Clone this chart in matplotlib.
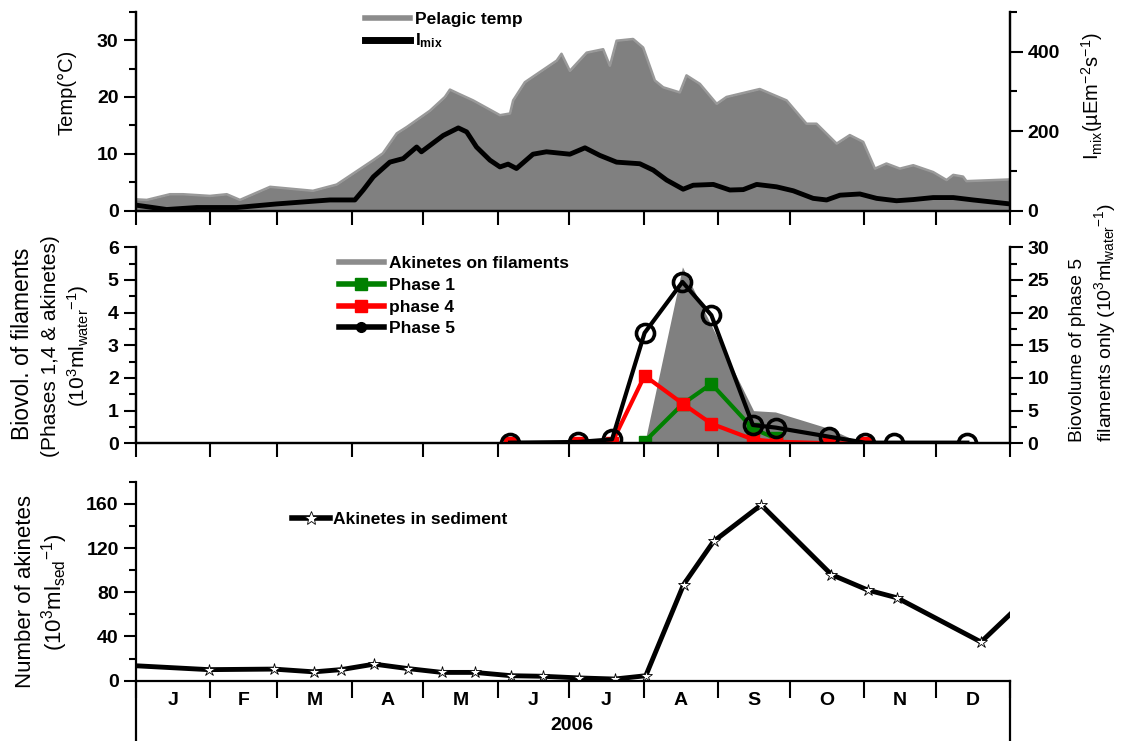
import matplotlib
matplotlib.use('Agg')
import matplotlib.pyplot as plt
from matplotlib.lines import Line2D
from matplotlib.ticker import MultipleLocator, FixedLocator, NullFormatter, FixedFormatter

plt.rcParams['font.family'] = ['Liberation Sans', 'DejaVu Sans']
plt.rcParams['mathtext.fontset'] = 'custom'
plt.rcParams['mathtext.rm'] = 'Liberation Sans'
plt.rcParams['mathtext.it'] = 'Liberation Sans'
plt.rcParams['mathtext.bf'] = 'Liberation Sans:bold'
plt.rcParams['mathtext.default'] = 'regular'

# ---------------- data (day of year 2006) ----------------
temp_day = [0, 4.5, 14.2, 19.6, 30.9, 37.9, 43.4, 56, 73.9, 83.8, 99.1, 103.1, 108.9, 113,
            122.8, 129, 131.1, 134.6, 140.8, 152, 156.2, 157.5, 162.4, 175.7, 177.7, 181.2,
            188.2, 195.1, 197.9, 200.7, 207.6, 211.8, 216.7, 220.2, 227.1, 229.9, 235.5,
            242.5, 246.6, 260.5, 271.7, 280, 284.2, 292.6, 298.1, 303.7, 308.6, 313.4, 319,
            324.6, 332.9, 338.5, 341.3, 345.4, 346.8, 365]
temp_val = [2.0, 1.9, 2.9, 2.9, 2.6, 2.9, 1.9, 4.2, 3.5, 4.6, 8.9, 10.1, 13.6, 14.7,
            17.6, 20.0, 21.3, 20.6, 19.4, 16.8, 17.1, 19.4, 22.6, 26.4, 27.6, 24.6,
            27.8, 28.4, 25.5, 29.9, 30.2, 28.7, 22.9, 21.7, 20.8, 23.8, 22.3,
            18.8, 20.0, 21.4, 19.4, 15.3, 15.3, 11.8, 13.3, 12.1, 7.4, 8.3, 7.4,
            8.0, 6.8, 5.4, 6.3, 6.0, 5.2, 5.5]

imix_day = [0, 12.8, 25.4, 42.1, 58.7, 81, 91.4, 94.9, 99.1, 106, 111.6, 117.2, 119.2,
            128.3, 134.6, 138.1, 142.2, 147.8, 152, 155.4, 158.9, 165.8, 171.4, 181.2,
            187.5, 193.7, 200.7, 210.4, 216, 221.6, 228.5, 232.7, 241.1, 248, 253.6,
            259.2, 267.5, 274.5, 282.8, 288.4, 294, 302.3, 309.3, 317.6, 324.6, 332.9,
            341.3, 349.6, 365]
imix_val = [14, 3, 8, 8, 17, 27, 27, 52, 85, 122, 131, 160, 148,
            189, 208, 198, 160, 127, 110, 117, 106, 142, 148, 142,
            158, 139, 122, 118, 102, 77, 54, 64, 66, 52, 53,
            66, 60, 50, 31, 27, 39, 42, 31, 25, 28, 33,
            33, 27, 17]

akin_fil_day = [212.4, 228.2, 257.9, 267.0, 289.6, 300.0, 304.5]
akin_fil_val = [0.0, 5.4, 1.0, 0.96, 0.45, 0.1, 0.0]

phase1_day = [212.4, 228.4, 240.3, 257.6, 267.2]
phase1_val = [0.05, 1.21, 1.82, 0.45, 0.15]

phase4_day = [156.2, 184.5, 198.8, 212.4, 228.4, 240.3, 257.6, 267.2, 289.6, 304.5]
phase4_val = [0.0, 0.0, 0.02, 2.07, 1.21, 0.6, 0.12, 0.05, 0.0, 0.0]

phase5_day = [156.2, 184.5, 198.8, 212.4, 228.2, 240.3, 257.6, 267.2, 289.6, 304.5, 316.4, 347.2]
phase5_val = [0.1, 0.2, 0.6, 16.9, 24.7, 19.6, 2.8, 2.4, 1.0, 0.1, 0.1, 0.1]

sed_day = [0, 30.4, 57.5, 74.3, 85.6, 99.5, 113.4, 127.8, 141.5, 156.7, 169.9, 185.0,
           199.9, 212.9, 228.7, 241.2, 261.1, 290.4, 305.6, 317.8, 352.9, 366]
sed_val = [13.5, 10, 10.5, 8, 10, 15, 11, 7.5, 7.5, 4.5, 4, 2.5,
           1.5, 4.5, 87, 126, 159, 96, 82, 75, 35, 62]

months = ['J', 'F', 'M', 'A', 'M', 'J', 'J', 'A', 'S', 'O', 'N', 'D']
month_start = [0, 31, 59, 90, 120, 151, 181, 212, 243, 273, 304, 334, 365]
year_label = '2006'

# ---------------- figure ----------------
W, H = 1123, 741
fig = plt.figure(figsize=(W / 100, H / 100), dpi=100)

def axrect(x0, y0, x1, y1):
    return [x0 / W, 1 - y1 / H, (x1 - x0) / W, (y1 - y0) / H]

axL, axR = 136, 1010
ax1 = fig.add_axes(axrect(axL, 11.7, axR, 210.7))
ax2 = fig.add_axes(axrect(axL, 247.3, axR, 443.3))
ax3 = fig.add_axes(axrect(axL, 481.7, axR, 680.7))

SPW = 1.6
TICKFS = 14
LEGFS = 12.5
GRAY = '#808080'

def style_x(ax):
    ax.set_xlim(0, 365)
    ax.xaxis.set_major_locator(FixedLocator(month_start))
    ax.xaxis.set_major_formatter(NullFormatter())
    ax.tick_params(axis='x', which='major', direction='out', length=10, width=1.5)
    ax.spines['top'].set_visible(False)
    for s in ax.spines.values():
        s.set_linewidth(SPW)

def style_y(ax):
    ax.tick_params(axis='y', which='major', direction='out', length=9, width=1.5,
                   labelsize=TICKFS)
    ax.tick_params(axis='y', which='minor', direction='out', length=5, width=1.5)

# ---- top panel ----
style_x(ax1)
ax1.fill_between(temp_day, 0, temp_val, color=GRAY, lw=0, zorder=1)
ax1.plot(temp_day, temp_val, color='#999999', lw=1.8, zorder=2)
ax1.set_ylim(0, 35)
ax1.yaxis.set_major_locator(FixedLocator([0, 10, 20, 30]))
ax1.yaxis.set_minor_locator(FixedLocator([5, 15, 25, 35]))
ax1.set_yticklabels(['0', '10', '20', '30'], fontweight='bold', fontsize=TICKFS)
style_y(ax1)
ax1b = ax1.twinx()
style_x(ax1b)
ax1b.plot(imix_day, imix_val, color='black', lw=3.5, zorder=3)
ax1b.set_ylim(0, 500)
ax1b.yaxis.set_major_locator(FixedLocator([0, 200, 400]))
ax1b.yaxis.set_minor_locator(FixedLocator([100, 300, 500]))
ax1b.set_yticklabels(['0', '200', '400'], fontweight='bold', fontsize=TICKFS)
style_y(ax1b)
h1 = [Line2D([], [], color='#8c8c8c', lw=4), Line2D([], [], color='black', lw=5)]
ax1b.legend(h1, ['Pelagic temp', r'I$_{mix}$'], loc='upper left',
            bbox_to_anchor=(0.252, 1.045), frameon=False, handlelength=2.6,
            handletextpad=0.3, labelspacing=0.3, borderpad=0,
            prop={'weight': 'bold', 'size': LEGFS})

# ---- middle panel ----
style_x(ax2)
ax2.fill_between(akin_fil_day, 0, akin_fil_val, color=GRAY, lw=0, zorder=1)
ax2.plot(phase1_day, phase1_val, color='#008000', lw=3, marker='s', ms=8, zorder=2)
ax2.plot(phase4_day, phase4_val, color='#ff0000', lw=3, marker='s', ms=8, zorder=3)
ax2.set_ylim(0, 6)
ax2.yaxis.set_minor_locator(MultipleLocator(0.5))
ax2.set_yticks(range(7))
ax2.set_yticklabels([str(i) for i in range(7)], fontweight='bold', fontsize=TICKFS)
style_y(ax2)
ax2b = ax2.twinx()
style_x(ax2b)
ax2b.plot(phase5_day, phase5_val, color='black', lw=3, marker='o', ms=13,
          mfc='none', mec='black', mew=2.6, zorder=4)
ax2b.set_ylim(0, 30)
ax2b.yaxis.set_minor_locator(MultipleLocator(2.5))
ax2b.set_yticks(range(0, 31, 5))
ax2b.set_yticklabels([str(i) for i in range(0, 31, 5)], fontweight='bold', fontsize=TICKFS)
style_y(ax2b)
h2 = [Line2D([], [], color='#8c8c8c', lw=4),
      Line2D([], [], color='#008000', lw=4, marker='s', ms=8),
      Line2D([], [], color='#ff0000', lw=4, marker='s', ms=8),
      Line2D([], [], color='black', lw=4, marker='o', ms=7)]
ax2b.legend(h2, ['Akinetes on filaments', 'Phase 1', 'phase 4', 'Phase 5'],
            loc='upper left', bbox_to_anchor=(0.222, 1.0), frameon=False,
            handlelength=2.6, handletextpad=0.3, labelspacing=0.38, borderpad=0,
            prop={'weight': 'bold', 'size': LEGFS})

# ---- bottom panel ----
style_x(ax3)
ax3.spines['right'].set_visible(False)
ax3.plot(sed_day, sed_val, color='black', lw=3.5, zorder=2,
         marker='*', ms=9, mfc='white', mec='black', mew=0.6,
         markevery=list(range(1, len(sed_day) - 1)))
ax3.set_ylim(0, 180)
ax3.yaxis.set_minor_locator(MultipleLocator(20))
ax3.set_yticks(range(0, 161, 40))
ax3.set_yticklabels([str(i) for i in range(0, 161, 40)], fontweight='bold', fontsize=TICKFS)
style_y(ax3)
centers = [(month_start[i] + month_start[i + 1]) / 2 for i in range(12)]
ax3.xaxis.set_minor_locator(FixedLocator(centers))
ax3.xaxis.set_minor_formatter(FixedFormatter(months))
ax3.tick_params(axis='x', which='minor', length=0, pad=8, labelsize=TICKFS)
for lab in ax3.xaxis.get_minorticklabels():
    lab.set_fontweight('bold')
ax3.tick_params(axis='x', which='major', length=12)
for xx in (0, 1):
    ax3.plot([xx, xx], [0, -0.31], transform=ax3.transAxes, color='black',
             lw=SPW, clip_on=False)
h3 = [Line2D([], [], color='black', lw=4, marker='*', ms=10, mfc='white', mec='black', mew=0.6)]
ax3.legend(h3, ['Akinetes in sediment'], loc='center left',
           bbox_to_anchor=(0.168, 0.81), frameon=False, handlelength=2.2,
           handletextpad=0.2, borderpad=0, prop={'weight': 'bold', 'size': LEGFS})
fig.text(572 / W, 1 - 725 / H, year_label, ha='center', va='center',
         fontsize=TICKFS, fontweight='bold')

# ---- axis labels (figure coordinates) ----
def vlabel(x, y, s, size):
    fig.text(x / W, 1 - y / H, s, rotation=90, ha='center', va='center', fontsize=size)

vlabel(67, 92, 'Temp(°C)', 14.5)
vlabel(1092, 96, r'I$_{mix}$(µEm$^{-2}$s$^{-1}$)', 14.5)
vlabel(23, 344, 'Biovol. of filaments', 16.5)
vlabel(51, 346, '(Phases 1,4 & akinetes)', 15)
vlabel(78, 346, r'(10$^{3}$ml$_{water}$$^{-1}$)', 15)
vlabel(1077, 350, 'Biovolume of phase 5', 13.8)
vlabel(1105, 322, r'filaments only (10$^{3}$ml$_{water}$$^{-1}$)', 14)
vlabel(26, 592, 'Number of akinetes', 16)
vlabel(55, 592, r'(10$^{3}$ml$_{sed}$$^{-1}$)', 16)

fig.savefig('out.png', dpi=100)
